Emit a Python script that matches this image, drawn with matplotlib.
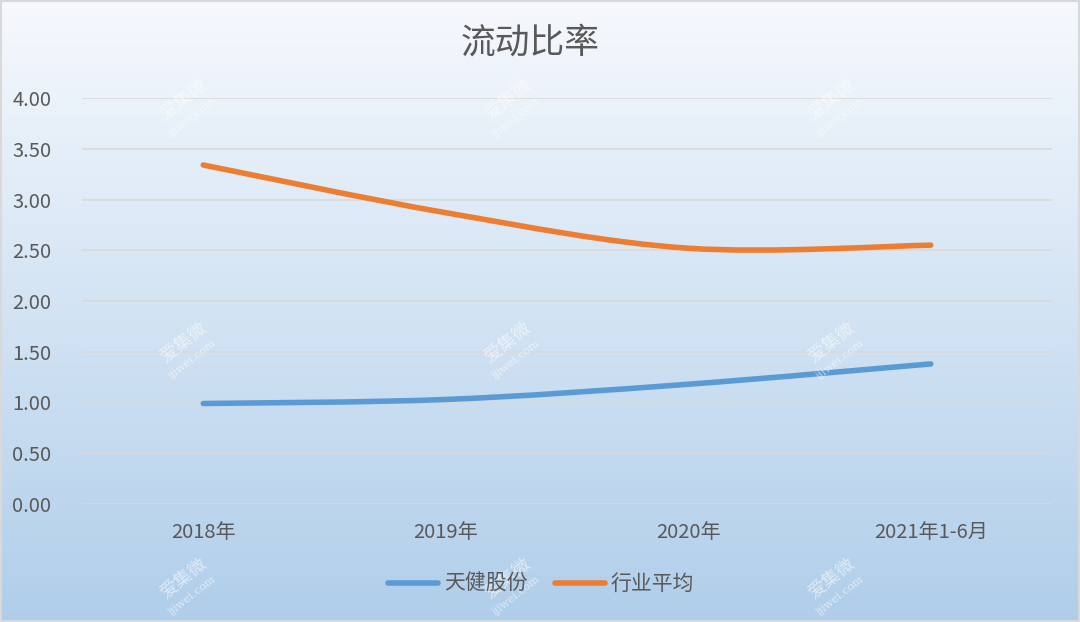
import numpy as np
import matplotlib
matplotlib.use("Agg")
import matplotlib.pyplot as plt
from matplotlib.path import Path
from matplotlib.patches import PathPatch
from matplotlib.lines import Line2D

plt.rcParams["font.family"] = ["Noto Sans CJK SC", "DejaVu Sans"]

# data
categories = ["2018年", "2019年", "2020年", "2021年1-6月"]
tianjian = [0.99, 1.03, 1.18, 1.38]
industry = [3.34, 2.87, 2.52, 2.55]
series_names = ["天健股份", "行业平均"]
yticks = [0.0, 0.5, 1.0, 1.5, 2.0, 2.5, 3.0, 3.5, 4.0]

blue = "#5B9BD5"
orange = "#ED7D31"
text_grey = "#595959"


def smooth_path(xs, ys):
    # Excel style smoothed line: cubic bezier through the points
    pts = np.column_stack([xs, ys]).astype(float)
    n = len(pts)
    verts = [pts[0]]
    codes = [Path.MOVETO]
    for i in range(n - 1):
        p0 = pts[max(i - 1, 0)]
        p1 = pts[i]
        p2 = pts[i + 1]
        p3 = pts[min(i + 2, n - 1)]
        c1 = p1 + (p2 - p0) / 6.0
        c2 = p2 - (p3 - p1) / 6.0
        verts += [c1, c2, p2]
        codes += [Path.CURVE4] * 3
    return Path(verts, codes)


fig = plt.figure(figsize=(10.8, 6.22), dpi=100)

# gradient background
bg = fig.add_axes([0, 0, 1, 1], zorder=-10)
top = np.array([246, 249, 253]) / 255.0
bot = np.array([176, 206, 234]) / 255.0
t = np.linspace(0, 1, 256)[:, None]
grad = top[None, :] * (1 - t) + bot[None, :] * t
bg.imshow(grad[:, None, :], aspect="auto", extent=[0, 1, 0, 1])
bg.set_xlim(0, 1)
bg.set_ylim(0, 1)
bg.axis("off")
bg.add_patch(plt.Rectangle((0.001, 0.001), 0.998, 0.997, fill=False,
                           edgecolor="#D9D9D9", linewidth=1.5,
                           transform=bg.transAxes))

# watermarks
for wx in [0.17, 0.47, 0.77]:
    for wy in [0.84, 0.45, 0.07]:
        fig.text(wx, wy, "爱集微", fontsize=13, color="white", alpha=0.55,
                 rotation=38, ha="center", va="center", family="Noto Sans CJK SC")
        fig.text(wx + 0.008, wy - 0.028, "ijiwei.com", fontsize=8, color="white",
                 alpha=0.55, rotation=38, ha="center", va="center",
                 family="DejaVu Serif")

ax = fig.add_axes([82 / 1080, 1 - 504 / 622, 970 / 1080, 406 / 622])
ax.patch.set_alpha(0)
x = np.arange(len(categories))

for vals, col in [(tianjian, blue), (industry, orange)]:
    patch = PathPatch(smooth_path(x, vals), fill=False, edgecolor=col,
                      linewidth=4, capstyle="round", joinstyle="round", zorder=3)
    ax.add_patch(patch)

ax.set_xlim(-0.5, len(categories) - 0.5)
ax.set_ylim(0, 4.0)
ax.set_yticks(yticks)
ax.set_yticklabels([f"{v:.2f}" for v in yticks])
ax.set_xticks(x)
ax.set_xticklabels(categories)
ax.yaxis.grid(True, color="#D9D9D9", linewidth=1.2)
ax.set_axisbelow(True)
for s in ax.spines.values():
    s.set_visible(False)
ax.tick_params(axis="both", length=0, labelsize=14.5, colors=text_grey)
ax.tick_params(axis="y", pad=22)
ax.tick_params(axis="x", pad=13)

fig.text(530 / 1080, 1 - 43 / 622, "流动比率", fontsize=25, color=text_grey,
         ha="center", va="center")

handles = [Line2D([0], [0], color=blue, linewidth=4, solid_capstyle="round"),
           Line2D([0], [0], color=orange, linewidth=4, solid_capstyle="round")]
fig.legend(handles, series_names, loc="center", bbox_to_anchor=(541 / 1080, 1 - 584 / 622),
           ncol=2, frameon=False, fontsize=15, labelcolor=text_grey,
           handlelength=2.4, handletextpad=0.3, columnspacing=1.3)

fig.savefig("out.png", dpi=100)
